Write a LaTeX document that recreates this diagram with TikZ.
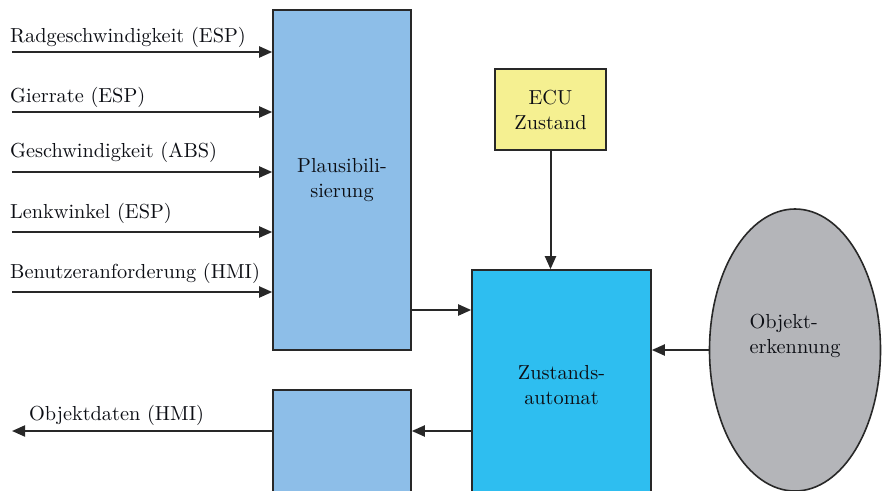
\documentclass[tikz,border=0pt]{standalone}
\usepackage{fontspec}
\setmainfont{lmroman10-regular}[Extension=.otf]
\usetikzlibrary{positioning}
\usetikzlibrary{arrows.meta}
\usetikzlibrary{shapes.geometric}
\definecolor{plausblue}{RGB}{141,190,232}
\definecolor{zustcyan}{RGB}{46,190,240}
\definecolor{ecuyellow}{RGB}{245,240,145}
\definecolor{objgray}{RGB}{180,181,185}
\definecolor{linegray}{RGB}{40,40,40}
\definecolor{textdark}{RGB}{12,14,20}

\begin{document}
\begin{tikzpicture}[x=1pt,y=-1pt,
    font=\fontsize{20.3pt}{25pt}\selectfont,
    block/.style={shape=rectangle,draw=linegray,line width=1.6pt,align=center,text=textdark},
    sig/.style={draw=linegray,line width=2pt,-{Triangle[length=13pt,width=11pt]}},
    lbl/.style={anchor=base west,inner sep=0pt,text=textdark}]
    \useasboundingbox (0,0) rectangle (882,490);
    \clip (0,0) rectangle (882,490);

    \node[block,fill=plausblue,minimum width=138pt,minimum height=340pt] (Plaus) at (342,180) {Plausibili-\\sierung};
    \node[block,fill=ecuyellow,minimum width=111pt,minimum height=81pt] (ECU) at (550.5,109.5) {ECU\\Zustand};
    \node[block,fill=zustcyan,minimum width=179pt,minimum height=230pt] (Zust) at (561.5,385) {Zustands-\\automat};
    \node[block,fill=plausblue,minimum width=138pt,minimum height=110pt] (Out) at (342,445) {};
    \node[shape=ellipse,draw=linegray,line width=1.6pt,fill=objgray,minimum width=171pt,minimum height=282pt,
        label={[align=left,text=textdark,yshift=14pt]center:{Objekt-\\erkennung}}] (Obj) at (795,350) {};

    % Eingangssignale
    \coordinate (in1) at (12,52);
    \coordinate (in2) at (12,112);
    \coordinate (in3) at (12,172);
    \coordinate (in4) at (12,232);
    \coordinate (in5) at (12,292);
    \draw[sig] (in1) -- (in1 -| Plaus.west);
    \draw[sig] (in2) -- (in2 -| Plaus.west);
    \draw[sig] (in3) -- (in3 -| Plaus.west);
    \draw[sig] (in4) -- (in4 -| Plaus.west);
    \draw[sig] (in5) -- (in5 -| Plaus.west);
    \node[lbl] (lRad) at (10,42) {Radgeschwindigkeit (ESP)};
    \node[lbl] (lGier) at (10,102.5) {Gierrate (ESP)};
    \node[lbl] (lGeschw) at (10,157) {Geschwindigkeit (ABS)};
    \node[lbl] (lLenk) at (10,218) {Lenkwinkel (ESP)};
    \node[lbl] (lHMI) at (10,278) {Benutzeranforderung (HMI)};

    \draw[sig] (ECU.south) -- (Zust.north -| ECU.south);
    \draw[sig] (Plaus.east |- 0,310) -- (Zust.west |- 0,310);
    \draw[sig] (Obj.west) -- (Zust.east |- Obj.west);
    \draw[sig] (Zust.west |- 0,431) -- (Out.east |- 0,431);

    % Ausgang
    \coordinate (outEnd) at (12,431);
    \draw[sig] (Out.west |- outEnd) -- (outEnd);
    \node[lbl] (lObjD) at (29,420) {Objektdaten (HMI)};
\end{tikzpicture}
\end{document}
